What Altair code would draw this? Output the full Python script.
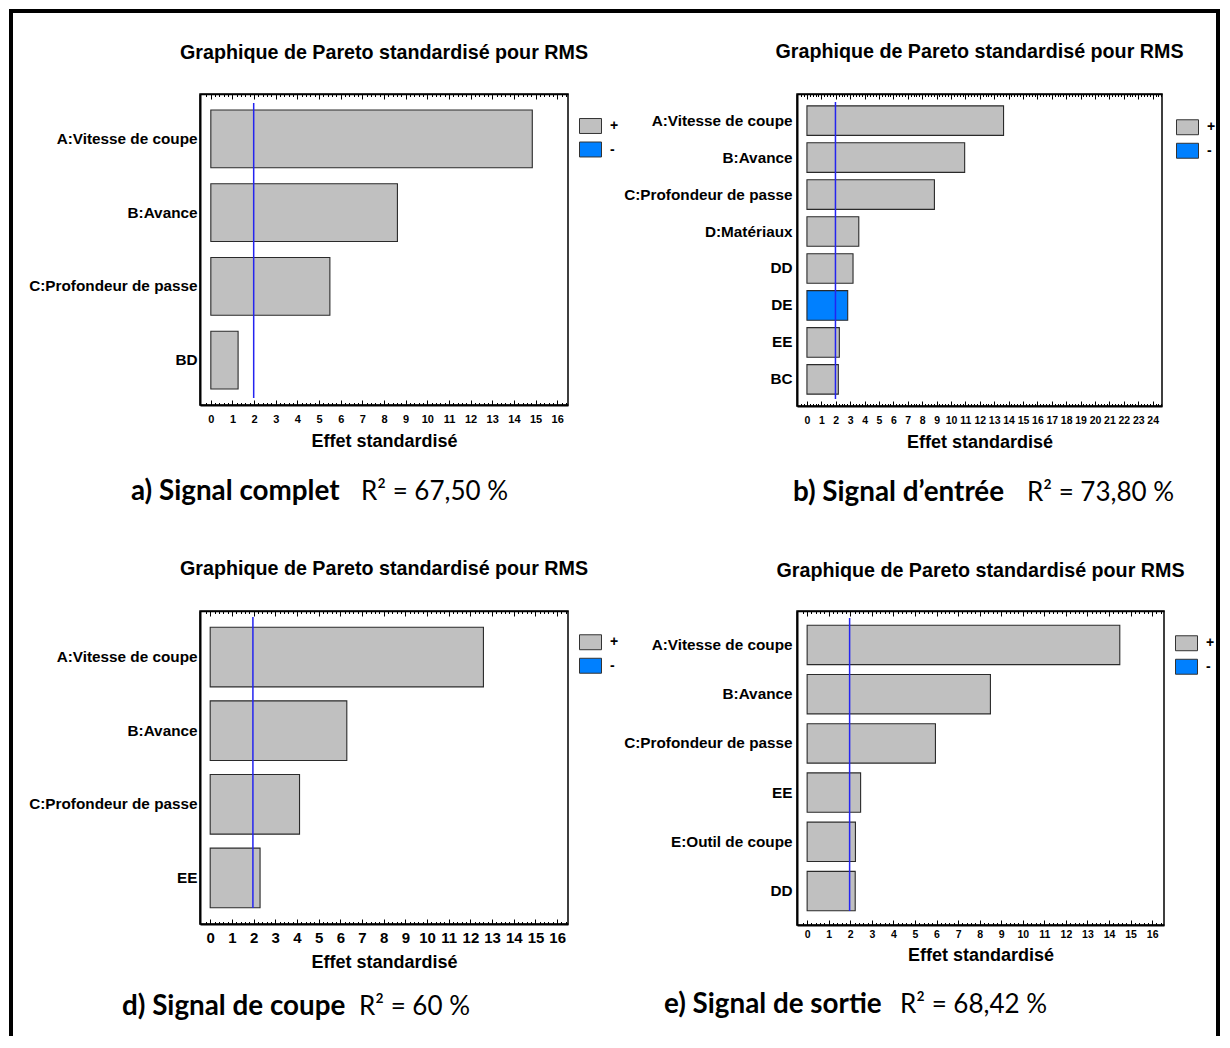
import altair as alt
import pandas as pd

TITLE = "Graphique de Pareto standardisé pour RMS"
XTITLE = "Effet standardisé"
SIGNS = ["+", "-"]
SIGN_COLORS = ["#c0c0c0", "#0080ff"]

a_terms = ["A:Vitesse de coupe", "B:Avance", "C:Profondeur de passe", "BD"]
a_effects = [14.85, 8.62, 5.5, 1.26]
a_signs = ["+", "+", "+", "+"]
a_crit = 1.98
a_caption = ["a) Signal complet", "R² = 67,50 %"]

b_terms = ["A:Vitesse de coupe", "B:Avance", "C:Profondeur de passe", "D:Matériaux",
           "DD", "DE", "EE", "BC"]
b_effects = [13.65, 10.95, 8.85, 3.6, 3.2, 2.83, 2.25, 2.18]
b_signs = ["+", "+", "+", "+", "+", "-", "+", "+"]
b_crit = 1.98
b_caption = ["b) Signal d’entrée", "R² = 73,80 %"]

d_terms = ["A:Vitesse de coupe", "B:Avance", "C:Profondeur de passe", "EE"]
d_effects = [12.6, 6.3, 4.12, 2.3]
d_signs = ["+", "+", "+", "+"]
d_crit = 1.97
d_caption = ["d) Signal de coupe", "R² = 60 %"]

e_terms = ["A:Vitesse de coupe", "B:Avance", "C:Profondeur de passe", "EE",
           "E:Outil de coupe", "DD"]
e_effects = [14.5, 8.5, 5.95, 2.48, 2.24, 2.23]
e_signs = ["+", "+", "+", "+", "+", "+"]
e_crit = 1.97
e_caption = ["e) Signal de sortie", "R² = 68,42 %"]

FONT = "Liberation Sans"
CAPFONT = "Lato"


def panel(terms, effects, signs, crit, caption, w, h, xdom, xmax_tick, pin, pout,
          tick_font, label_pad, title_pad, line_ins, cap_x, cap_y, legend_xy,
          rects, title_y, ylab_pad):
    df = pd.DataFrame({"term": terms, "effect": effects, "sign": signs})
    xscale = alt.Scale(domain=xdom, nice=False, zero=False)
    major = list(range(0, xmax_tick + 1))
    lo = int(xdom[0] * 5) + 1
    hi = int(xdom[1] * 5)
    minor = [k / 5 for k in range(lo, hi + 1) if k % 5 != 0]

    bars = alt.Chart(df).mark_bar(stroke="#2a2a2a", strokeWidth=1.1).encode(
        x=alt.X("effect:Q", scale=xscale,
                axis=alt.Axis(values=major, title=XTITLE, grid=True,
                              gridDash=[5, h - 10, 5], gridColor="black",
                              gridWidth=1, gridOpacity=1, ticks=False, tickSize=0,
                              domain=True, domainColor="black", domainWidth=2,
                              labelFont=FONT, labelFontSize=tick_font,
                              labelFontWeight="bold", labelColor="black",
                              labelPadding=label_pad, labelFlush=False,
                              labelOverlap=False, titleFont=FONT, titleFontSize=18,
                              titleFontWeight="bold", titleColor="black",
                              titlePadding=title_pad)),
        y=alt.Y("term:N", sort=terms,
                scale=alt.Scale(domain=terms, paddingInner=pin, paddingOuter=pout),
                axis=alt.Axis(title=None, ticks=False, tickSize=0, domain=True,
                              domainColor="black", domainWidth=2, labelFont=FONT,
                              labelFontSize=15.3, labelFontWeight="bold",
                              labelColor="black", labelPadding=ylab_pad, labelLimit=400,
                              grid=False)),
        color=alt.Color("sign:N", scale=alt.Scale(domain=SIGNS, range=SIGN_COLORS),
                        legend=alt.Legend(title=None, orient="none",
                                          legendX=legend_xy[0], legendY=legend_xy[1],
                                          direction="vertical",
                                          symbolType="M-1,-0.68H1V0.68H-1Z",
                                          symbolSize=484, symbolStrokeColor="#333333",
                                          symbolStrokeWidth=1, symbolOpacity=1,
                                          labelFont=FONT, labelFontSize=14,
                                          labelFontWeight="bold", labelColor="black",
                                          labelOffset=8, rowPadding=2.5, padding=0)),
    )

    crit_df = pd.DataFrame({"crit": [crit]})
    rule = alt.Chart(crit_df).mark_rule(color="#2424f0", strokeWidth=1.5).encode(
        x=alt.X("crit:Q", scale=xscale,
                axis=alt.Axis(orient="top", values=minor, grid=True,
                              gridDash=[2.5, h - 5, 2.5], gridColor="black",
                              gridWidth=1, gridOpacity=1, labels=False, ticks=False,
                              tickSize=0, domain=True, domainColor="black",
                              domainWidth=1.5, title=None)),
        y=alt.value(line_ins[0]),
        y2=alt.value(h - line_ins[1]),
    )

    cap_df = pd.DataFrame({"bold": [caption[0]], "norm": [caption[1]], "title": [TITLE]})
    title = alt.Chart(cap_df).mark_text(align="center", baseline="alphabetic", font=FONT,
                                        fontSize=19.7, fontWeight="bold",
                                        color="black").encode(
        text="title:N", x=alt.value(w / 2), y=alt.value(title_y))
    cap1 = alt.Chart(cap_df).mark_text(align="left", baseline="alphabetic", font=CAPFONT,
                                       fontSize=27.8, fontWeight="bold",
                                       color="black").encode(
        text="bold:N", x=alt.value(cap_x[0]), y=alt.value(cap_y))
    cap2 = alt.Chart(cap_df).mark_text(align="left", baseline="alphabetic", font=CAPFONT,
                                       fontSize=26, fontWeight="normal",
                                       color="black").encode(
        text="norm:N", x=alt.value(cap_x[1]), y=alt.value(cap_y))

    layers = [bars, rule, title, cap1, cap2]
    for (x1, x2, y1, y2) in rects:
        layers.append(alt.Chart(cap_df).mark_rect(color="black").encode(
            x=alt.value(x1), x2=alt.value(x2), y=alt.value(y1), y2=alt.value(y2)))

    return alt.layer(*layers).resolve_axis(x="independent").properties(width=w, height=h)


pa = panel(a_terms, a_effects, a_signs, a_crit, a_caption, 368, 311, [-0.5, 16.5], 16,
           0.216, 0.216, 11, 8, 8, (9, 7), (-69, 161), 406, (379, 20.5),
           [(-191, 423, -85, -81), (-191, -187, -85, 436)], -35.5, 3)
pb = panel(b_terms, b_effects, b_signs, b_crit, b_caption, 365, 312, [-0.69, 24.65], 24,
           0.2, 0.32, 10.5, 9, 8, (8, 7), (-4, 230), 407, (379, 21.75),
           [(-174, 423, -85, -81), (419, 423, -85, 436)], -36, 5)
pdd = panel(d_terms, d_effects, d_signs, d_crit, d_caption, 368, 313, [-0.47, 16.5], 16,
            0.19, 0.22, 15, 6, 8, (6, 16), (-78, 159), 404, (379, 19.75),
            [(-191, -187, -81, 425)], -36, 3)
pe = panel(e_terms, e_effects, e_signs, e_crit, e_caption, 367, 314, [-0.47, 16.55], 16,
           0.2, 0.29, 10.5, 4, 7, (7, 14), (-133, 103), 402, (378, 20.75),
           [(419, 423, -81, 425)], -34, 5)

col1 = alt.vconcat(pa, pdd, spacing=-2).resolve_scale(color="independent")
col2 = alt.vconcat(pb, pe, spacing=-2).resolve_scale(color="independent")
chart = alt.hconcat(col1, col2, spacing=-2).resolve_scale(color="independent").properties(
    padding=0, background="white"
).configure_view(stroke="black", strokeWidth=1.5)

chart.save("out.html", embed_options={"renderer": "svg", "actions": False})
